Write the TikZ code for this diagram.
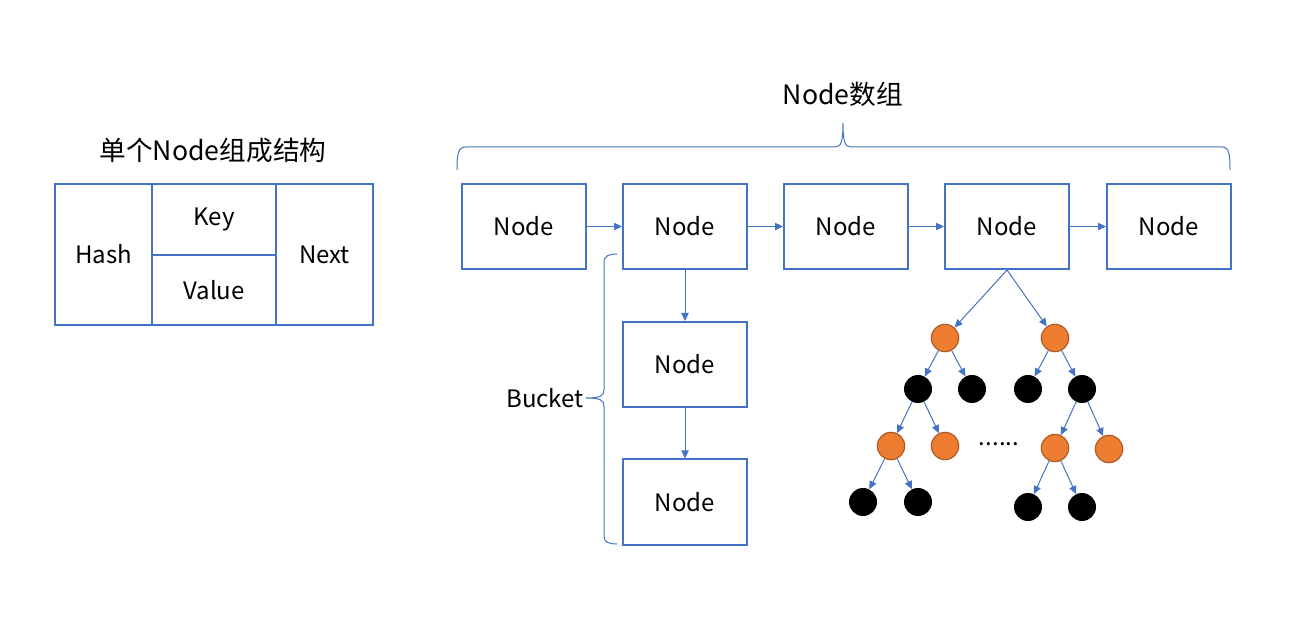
\documentclass[tikz,border=0pt]{standalone}
\usepackage{fontspec}
\setmainfont{Noto Sans CJK SC}
\usetikzlibrary{arrows.meta}
\definecolor{cblue}{HTML}{4472C4}
\definecolor{corange}{HTML}{ED7D31}
\definecolor{cobrd}{HTML}{AE5A21}
\begin{document}
\begin{tikzpicture}[x=0.75pt,y=-0.75pt,
  txt/.style={font=\fontsize{18}{22}\selectfont, inner sep=0pt},
  ttl/.style={font=\fontsize{20}{24}\selectfont, inner sep=0pt},
  nbox/.style={txt, draw=cblue, line width=1.5pt, minimum width=93pt, minimum height=63.75pt},
  cell/.style={txt, draw=cblue, line width=1.5pt},
  arr/.style={draw=cblue, line width=0.75pt, -{Triangle[length=6pt,width=5.5pt]}},
  brace/.style={draw=cblue, line width=0.75pt},
  onode/.style={circle, fill=corange, draw=cobrd, line width=0.9pt, minimum size=20.5pt, inner sep=0pt},
  bnode/.style={circle, fill=black, minimum size=21pt, inner sep=0pt}]
\useasboundingbox (0,0) rectangle (1307,634);

% left structure
\node[ttl] (title) at (213,150) {单个Node组成结构};
\node[cell, minimum width=72.75pt, minimum height=105.75pt] (hash) at (103.5,254.5) {\raisebox{-1pt}{Hash}};
\node[cell, minimum width=93pt, minimum height=53.25pt] (key) at (214,219.5) {\raisebox{-2pt}{Key}};
\node[cell, minimum width=93pt, minimum height=52.5pt] (value) at (214,290) {Value};
\node[cell, minimum width=72.75pt, minimum height=105.75pt] (next) at (324.5,254.5) {\raisebox{-1pt}{Next}};

% array
\node[ttl] (arrtitle) at (843,94) {Node数组};
\node[nbox] (n1) at (524,226.5) {Node};
\node[nbox] (n2) at (685,226.5) {Node};
\node[nbox] (n3) at (846,226.5) {Node};
\node[nbox] (n4) at (1007,226.5) {Node};
\node[nbox] (n5) at (1169,226.5) {Node};
\draw[arr] (n1) -- (n2);
\draw[arr] (n2) -- (n3);
\draw[arr] (n3) -- (n4);
\draw[arr] (n4) -- (n5);

\draw[brace] (457,170) .. controls (457,154) and (458,147) .. (466,147) -- (835,147)
  .. controls (841,147) and (843,142) .. (843,123)
  .. controls (843,142) and (845,147) .. (851,147) -- (1222,147)
  .. controls (1229,147) and (1230,154) .. (1230,170);

% bucket
\node[nbox] (b1) at (685,364.5) {Node};
\node[nbox] (b2) at (685,502) {Node};
\draw[arr] (n2) -- (b1);
\draw[arr] (b1) -- (b2);
\node[txt, anchor=east] (bucket) at (584,398) {Bucket};
\draw[brace] (617,254) .. controls (608,254) and (604,256) .. (604,263) -- (604,390)
  .. controls (604,396) and (600,398) .. (586,398)
  .. controls (600,398) and (604,400) .. (604,406) -- (604,536)
  .. controls (604,542) and (608,544) .. (617,544);

% tree
\node[onode] (o1) at (945,338) {};
\node[onode] (o2) at (1055,338) {};
\node[bnode] (k1) at (918,389) {};
\node[bnode] (k2) at (972,389) {};
\node[bnode] (k3) at (1028,389) {};
\node[bnode] (k4) at (1082,389) {};
\node[onode] (o3) at (891,446) {};
\node[onode] (o4) at (945,446) {};
\node[onode] (o5) at (1055,448) {};
\node[onode] (o6) at (1109,449) {};
\node[bnode] (k5) at (863,502) {};
\node[bnode] (k6) at (918,502) {};
\node[bnode] (k7) at (1028,507) {};
\node[bnode] (k8) at (1082,507) {};
\node[txt] (dots) at (999,444) {......};
\draw[arr] (n4.south) -- (o1);
\draw[arr] (n4.south) -- (o2);
\draw[arr] (o1) -- (k1);
\draw[arr] (o1) -- (k2);
\draw[arr] (o2) -- (k3);
\draw[arr] (o2) -- (k4);
\draw[arr] (k1) -- (o3);
\draw[arr] (k1) -- (o4);
\draw[arr] (k4) -- (o5);
\draw[arr] (k4) -- (o6);
\draw[arr] (o3) -- (k5);
\draw[arr] (o3) -- (k6);
\draw[arr] (o5) -- (k7);
\draw[arr] (o5) -- (k8);
\end{tikzpicture}
\end{document}
